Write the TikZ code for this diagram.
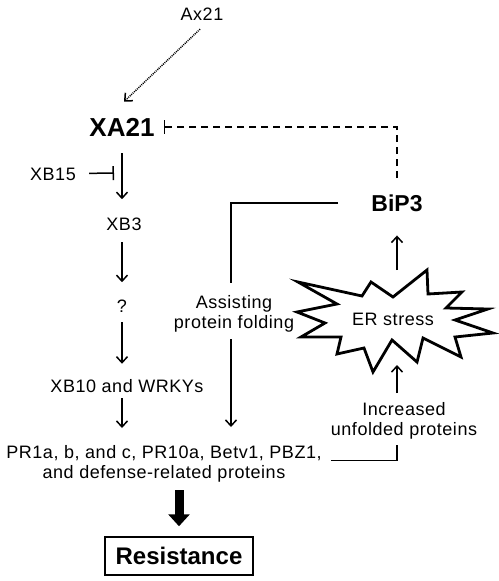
\documentclass[tikz,border=0pt]{standalone}
\usepackage{fontspec}
\setmainfont{Liberation Sans}
\newfontfamily\spaced{Liberation Sans}[LetterSpace=3]
\usetikzlibrary{arrows.meta}
\tikzset{
  lbl/.style={inner sep=0pt, font=\spaced\fontsize{18}{20}\selectfont, align=center},
  bigl/.style={inner sep=0pt, font=\fontsize{26}{28}\selectfont\bfseries},
  act/.style={-{Straight Barb[length=6pt,width=11pt]}, line width=1.5pt},
  inh/.style={-{Bar[width=14pt]}, line width=1.5pt},
  bigarrow/.style={-{Triangle[length=12pt,width=21pt]}, line width=9pt},
}
\begin{document}
\begin{tikzpicture}[x=1pt,y=-1pt]
    \useasboundingbox (0,0) rectangle (498,581);
    % nodes
    \node[lbl, anchor=base] (ax21) at (202,20) {Ax21};
    \node[bigl, anchor=base] (xa21) at (122,136) {XA21};
    \node[lbl, anchor=base] (xb15) at (53,180) {XB15};
    \node[lbl, anchor=base] (xb3) at (124,230) {XB3};
    \node[lbl, anchor=base] (q) at (122,312) {?};
    \node[lbl, anchor=base] (xb10) at (127,392) {XB10 and WRKYs};
    \node[lbl, anchor=north] (pr) at (164,445) {PR1a, b, and c, PR10a, Betv1, PBZ1,\\and defense-related proteins};
    \node[draw, line width=1.5pt, minimum width=148pt, minimum height=38pt,
          font=\fontsize{24}{26}\selectfont\bfseries] (res) at (179,556) {Resistance};
    \node[bigl, font=\fontsize{23}{25}\selectfont\bfseries, anchor=base] (bip3) at (397,211) {BiP3};
    \node[lbl, anchor=north] (assist) at (234,295) {Assisting\\protein folding};
    \node[lbl, anchor=north] (incr) at (404,402) {Increased\\unfolded proteins};
    % ER stress burst
    \draw[line width=2.8pt, line join=miter] (298,282) -- (362,296) -- (371,282) -- (393,297)
        -- (427,270) -- (428,294) -- (462,292) -- (446,308) -- (488,309) -- (455,320)
        -- (493,333) -- (455,337) -- (461,357) -- (423,338) -- (417,362) -- (392,340)
        -- (373,372) -- (364,348) -- (337,354) -- (341,337) -- (301,337) -- (325,323)
        -- (297,312) -- (337,304) -- cycle;
    \node[lbl] (er) at (393,319) {ER stress};
    \coordinate (ertop) at (397,270);
    \coordinate (erbot) at (397,365);
    \coordinate (blk) at (114,173);
    % connectors
    \draw[act, dash pattern=on 1pt off 1pt] ([shift={(-2,9)}]ax21.south) -- ([shift={(2,-16)}]xa21.north);
    \draw[act, shorten <=17pt, shorten >=18pt] (xa21) -- (xa21 |- xb3.north);
    \draw[inh, shorten <=13pt] (xb15) -- (blk);
    \draw[act, shorten <=12pt, shorten >=17pt] (xb3.south -| xa21) -- (q.north);
    \draw[act, shorten <=10pt, shorten >=15pt] (q.south) -- (q.south |- xb10.north);
    \draw[act, shorten <=6pt, shorten >=17pt] (xb10.south -| q) -- (q |- pr.north);
    \draw[bigarrow, shorten <=8pt, shorten >=10pt] (pr.south -| res) -- (res.north);
    \draw[line width=1.5pt, shorten <=33pt, shorten >=12pt] (bip3.west) -| ([xshift=-3pt]assist.north);
    \draw[act, shorten <=7pt, shorten >=18pt] ([xshift=-3pt]assist.south) -- ([xshift=-3pt]assist.south |- pr.north);
    \draw[line width=1.5pt, shorten <=9pt, shorten >=6pt] ([yshift=3pt]pr.east) -| (incr.south -| erbot);
    \draw[act, shorten <=9pt] (incr.north -| erbot) -- (erbot);
    \draw[act, shorten >=24pt] (ertop) -- (bip3.south);
    \draw[inh, dash pattern=on 7pt off 5pt, shorten <=16pt, shorten >=9pt] (bip3.north) |- (xa21.east);
\end{tikzpicture}
\end{document}
